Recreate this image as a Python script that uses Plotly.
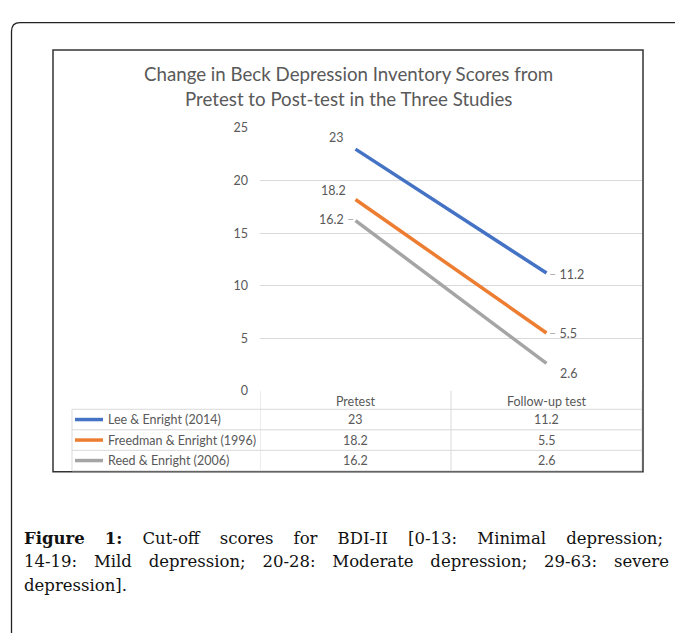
import plotly.graph_objects as go

# ---- data ----
categories = ["Pretest", "Follow-up test"]
series_names = ["Lee & Enright (2014)", "Freedman & Enright (1996)", "Reed & Enright (2006)"]
lee_scores = [23, 11.2]
freedman_scores = [18.2, 5.5]
reed_scores = [16.2, 2.6]
y_ticks = [0, 5, 10, 15, 20, 25]

title_lines = ["Change in Beck Depression Inventory Scores from",
               "Pretest to Post-test in the Three Studies"]
caption_words = [
    ["<b>Figure</b>", "<b>1:</b>", "Cut-off", "scores", "for", "BDI-II", "[0-13:", "Minimal", "depression;"],
    ["14-19:", "Mild", "depression;", "20-28:", "Moderate", "depression;", "29-63:", "severe"],
    ["depression]."],
]

series = [lee_scores, freedman_scores, reed_scores]
colors = ["#4472C4", "#ED7D31", "#A5A5A5"]

W, H = 675, 635
GREY = "#595959"
LINE = "#d9d9d9"
LEAD = "<span style='color:#b0b0b0'>\u2013</span>"
EN, THIN = "\u2002", "\u2009"


def fx(px):
    return px / W


def fy(py):
    return 1 - py / H


fig = go.Figure()

for name, vals, col in zip(series_names, series, colors):
    fig.add_trace(go.Scatter(
        x=categories, y=vals, name=name, mode="lines",
        line=dict(color=col, width=3.5),
        hoverinfo="x+y+name", showlegend=False,
    ))

shapes = []
annotations = []

# data labels, placed like the excel ones (anchor, shifts, leader dash)
label_style = [
    [dict(xanchor="right", yanchor="bottom", xshift=-10, yshift=2, lead=""),
     dict(xanchor="left", yanchor="middle", xshift=0, yshift=-1, lead="before")],
    [dict(xanchor="right", yanchor="bottom", xshift=-8, yshift=0, lead=""),
     dict(xanchor="left", yanchor="middle", xshift=0, yshift=-1, lead="before")],
    [dict(xanchor="right", yanchor="middle", xshift=0, yshift=1, lead="after"),
     dict(xanchor="left", yanchor="top", xshift=11, yshift=-1, lead="")],
]
for vals, styles in zip(series, label_style):
    for c, v, st in zip(categories, vals, styles):
        s = f"{v:g}"
        if st["lead"] == "after":
            s = s + " " + LEAD
        elif st["lead"] == "before":
            s = LEAD + " " + s
        annotations.append(dict(text=s, xref="x", yref="y", x=c, y=v,
                                xanchor=st["xanchor"], yanchor=st["yanchor"],
                                xshift=st["xshift"], yshift=st["yshift"], showarrow=False,
                                font=dict(size=12.5, color=GREY, family="Lato")))

# outer rounded frame (runs off the right and bottom edges)
shapes.append(dict(type="path", xref="paper", yref="paper",
                   path=f"M {fx(11.5)},{fy(640)} L {fx(11.5)},{fy(24)} "
                        f"Q {fx(11.5)},{fy(15)} {fx(20)},{fy(15)} L {fx(680)},{fy(15)}",
                   line=dict(color="#222222", width=1.3)))
# chart frame
shapes.append(dict(type="rect", xref="paper", yref="paper",
                   x0=fx(53), x1=fx(643), y0=fy(475), y1=fy(43),
                   line=dict(color="#333333", width=1.5), layer="above"))

# data table under the plot
row_edges = [411, 432, 453, 474]
for yy in row_edges:
    shapes.append(dict(type="line", xref="paper", yref="paper",
                       x0=fx(72), x1=fx(642), y0=fy(yy), y1=fy(yy),
                       line=dict(color=LINE, width=1)))
shapes.append(dict(type="line", xref="paper", yref="paper",
                   x0=fx(72), x1=fx(72), y0=fy(411), y1=fy(474),
                   line=dict(color=LINE, width=1)))
for xx in [-0.5, 0.5, 1.5]:
    shapes.append(dict(type="line", xref="x", yref="paper",
                       x0=xx, x1=xx, y0=fy(392), y1=fy(474),
                       line=dict(color=LINE, width=1)))

for i, (name, vals, col) in enumerate(zip(series_names, series, colors)):
    yc = (row_edges[i] + row_edges[i + 1]) / 2
    shapes.append(dict(type="line", xref="paper", yref="paper",
                       x0=fx(75), x1=fx(103), y0=fy(yc), y1=fy(yc),
                       line=dict(color=col, width=3.5)))
    annotations.append(dict(text=name, xref="paper", yref="paper",
                            x=fx(106), y=fy(yc), xanchor="left", yanchor="middle",
                            showarrow=False, font=dict(size=12.5, color=GREY, family="Lato")))
    for c, v in zip(categories, vals):
        annotations.append(dict(text=f"{v:g}", xref="x", yref="paper",
                                x=c, y=fy(yc), xanchor="center", yanchor="middle",
                                showarrow=False, font=dict(size=12.5, color=GREY, family="Lato")))

# title
for k, t in enumerate(title_lines):
    annotations.append(dict(text=t, xref="paper", yref="paper",
                            x=fx(348), y=fy(68 + 25 * k), xanchor="center", yanchor="middle",
                            showarrow=False, font=dict(size=18.7, color=GREY, family="Lato")))

# figure caption; the first two lines are stretched with extra unicode spaces
# to mimic the justified text of the page
gaps = [" " + EN + THIN + THIN, " " + EN + THIN, " "]
for k, (words, gap) in enumerate(zip(caption_words, gaps)):
    annotations.append(dict(text=gap.join(words), xref="paper", yref="paper",
                            x=fx(22), y=fy(543 + 24 * k), xanchor="left", yanchor="middle",
                            showarrow=False,
                            font=dict(size=16.5, color="#111111", family="DejaVu Serif")))

fig.update_layout(
    width=W, height=H, autosize=False,
    margin=dict(l=0, r=0, t=0, b=0),
    paper_bgcolor="white", plot_bgcolor="white",
    showlegend=False,
    xaxis=dict(domain=[fx(260), fx(642)], range=[-0.5, 1.5], type="category",
               showgrid=False, zeroline=False, showline=False,
               ticks="", tickfont=dict(size=12.5, color=GREY, family="Lato"),
               ticklabelstandoff=2),
    yaxis=dict(domain=[fy(392), fy(123)], range=[0, 25], tickvals=y_ticks,
               showgrid=True, gridcolor=LINE, gridwidth=1, zeroline=False,
               showline=False, ticks="", ticklabelstandoff=11,
               tickfont=dict(size=12.5, color=GREY, family="Lato")),
    shapes=shapes,
    annotations=annotations,
)

fig.write_html("out.html", config={"displayModeBar": False},
               post_script="document.body.style.margin='0px';")
